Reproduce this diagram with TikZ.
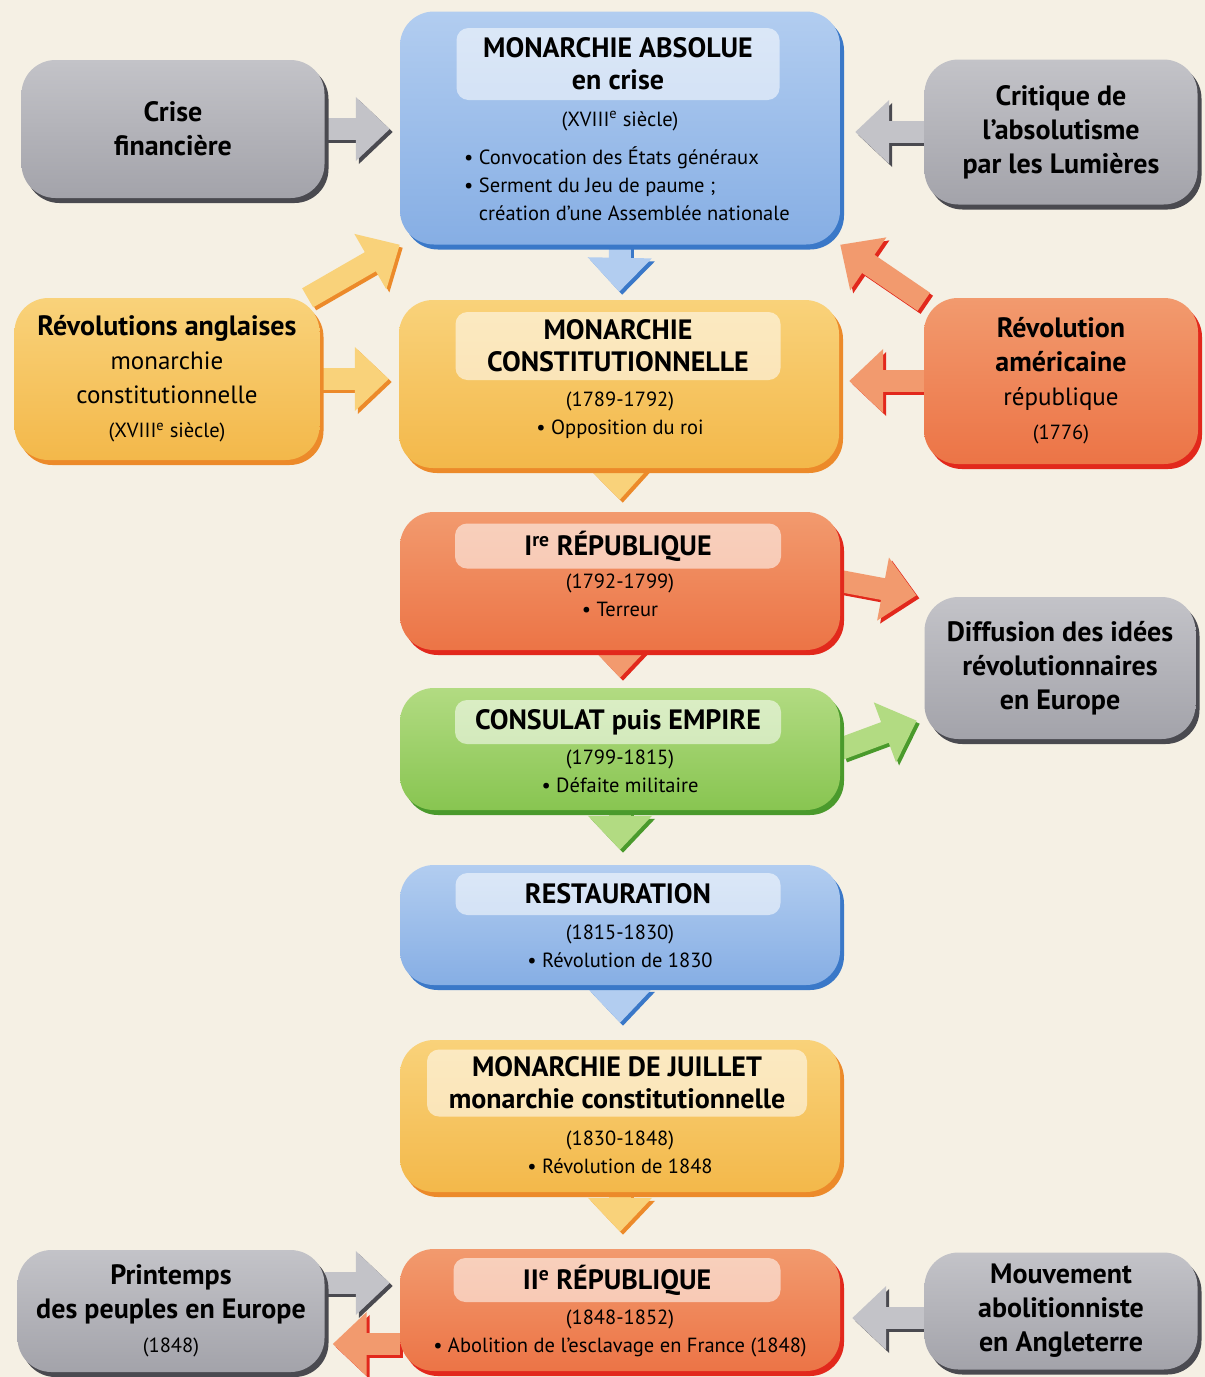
\documentclass[tikz,border=0pt]{standalone}
\usepackage{fontspec}
\setmainfont{PT Sans}
\usetikzlibrary{positioning,calc,arrows.meta,shadows,backgrounds}
\tikzset{>=Triangle}

\definecolor{paper}{HTML}{F5F0E4}
\definecolor{blueA}{HTML}{B2CDF0}
\definecolor{blueB}{HTML}{86AEE4}
\definecolor{blueE}{HTML}{3A78C8}
\definecolor{yellowA}{HTML}{F9D27A}
\definecolor{yellowB}{HTML}{F3B84A}
\definecolor{yellowE}{HTML}{EC8A2A}
\definecolor{redA}{HTML}{F29A6E}
\definecolor{redB}{HTML}{EC7446}
\definecolor{redE}{HTML}{E2281C}
\definecolor{greenA}{HTML}{B2DB82}
\definecolor{greenB}{HTML}{88C551}
\definecolor{greenE}{HTML}{4A9A2C}
\definecolor{greyA}{HTML}{C3C3C8}
\definecolor{greyB}{HTML}{A3A3AA}
\definecolor{greyE}{HTML}{4A4A50}

\newcommand{\periodfont}{\fontsize{28}{32}\selectfont\bfseries}
\newcommand{\datefont}{\fontsize{20.5}{28}\selectfont\mdseries}
\newcommand{\sidefont}{\fontsize{28}{34}\selectfont\bfseries}
\newcommand{\sidenote}{\fontsize{25}{31}\selectfont\mdseries}

\tikzset{
  box/.style={rounded corners=34pt, inner sep=0pt, align=center,
    top color=#1A, bottom color=#1B,
    drop shadow={shadow xshift=4pt, shadow yshift=-5pt, fill=#1E, opacity=1}},
  period/.style={box=#1, minimum width=440pt},
  side/.style={box=#1, font=\sidefont},
  namebox/.style={rounded corners=12pt, fill=white, fill opacity=0.55, text opacity=1,
    inner sep=0pt, align=center, font=\periodfont},
  detail/.style={inner sep=0pt, align=center, font=\datefont},
  flow/.style 2 args={draw=#1, line width=22pt, -{Triangle[width=62pt,length=34pt]},
    preaction={draw=#2, line width=22pt, -{Triangle[width=62pt,length=34pt]},
      transform canvas={shift={(3pt,-3pt)}}}},
}

\begin{document}
\begin{tikzpicture}[x=1pt,y=-1pt]
\begin{scope}[on background layer]
\fill[paper] (0,0) rectangle (1205,1377);
\end{scope}
\useasboundingbox (0,0) rectangle (1205,1377);

% centre column
\node[period=blue, minimum height=233pt] (mabs) at (620,128) {};
\node[namebox, minimum width=323pt, minimum height=72pt] (mabs-t) at (618,64) {MONARCHIE ABSOLUE\\en crise};
\node[detail] (mabs-s) at (620,121) {(XVIII\textsuperscript{e} siècle)};
\node[detail, align=left] (mabs-d) at (627,184) {\textbullet~Convocation des États généraux\\
  \textbullet~Serment du Jeu de paume ;\\ \phantom{\textbullet~}création d’une Assemblée nationale};

\node[period=yellow, minimum height=168pt] (mcons) at (619,384) {};
\node[namebox, minimum width=325pt, minimum height=68pt] (mcons-t) at (618,346) {MONARCHIE\\CONSTITUTIONNELLE};
\node[detail] (mcons-d) at (620,415) {(1789-1792)\\\textbullet~Opposition du roi};

\node[period=red, minimum height=138pt] (mrep1) at (620,581) {};
\node[namebox, minimum width=326pt, minimum height=45pt] (mrep1-t) at (618,546) {I\textsuperscript{re} RÉPUBLIQUE};
\node[detail] (mrep1-d) at (620,595) {(1792-1799)\\\textbullet~Terreur};

\node[period=green, minimum height=122pt] (consulat) at (620,749) {};
\node[namebox, minimum width=326pt, minimum height=44pt] (consulat-t) at (618,722) {CONSULAT puis EMPIRE};
\node[detail] (consulat-d) at (620,771) {(1799-1815)\\\textbullet~Défaite militaire};

\node[period=blue, minimum height=120pt] (restau) at (620,925) {};
\node[namebox, minimum width=325pt, minimum height=42pt] (restau-t) at (618,894) {RESTAURATION};
\node[detail] (restau-d) at (620,946) {(1815-1830)\\\textbullet~Révolution de 1830};

\node[period=yellow, minimum height=152pt] (juillet) at (620,1116) {};
\node[namebox, minimum width=380pt, minimum height=67pt] (juillet-t) at (617,1083) {MONARCHIE DE JUILLET\\monarchie constitutionnelle};
\node[detail] (juillet-d) at (620,1152) {(1830-1848)\\\textbullet~Révolution de 1848};

\node[period=red, minimum height=122pt] (mrep2) at (620,1310) {};
\node[namebox, minimum width=327pt, minimum height=44pt] (mrep2-t) at (617,1280) {II\textsuperscript{e} RÉPUBLIQUE};
\node[detail] (mrep2-d) at (620,1333) {(1848-1852)\\\textbullet~Abolition de l’esclavage en France (1848)};

% left and right
\node[side=grey, minimum width=303pt, minimum height=138pt] (crise) at (173,129) {Crise\\financière};
\node[side=grey, minimum width=273pt, minimum height=145pt] (critique) at (1061,132) {Critique de\\l’absolutisme\\par les Lumières};
\node[side=yellow, minimum width=305pt, minimum height=162pt] (anglo) at (167,379) {Révolutions anglaises\\{\sidenote monarchie}\\
  {\sidenote constitutionnelle}\\{\datefont (XVIII\textsuperscript{e} siècle)}};
\node[side=red, minimum width=274pt, minimum height=166pt] (amer) at (1061,381) {Révolution\\américaine\\{\sidenote république}\\{\datefont (1776)}};
\node[side=grey, minimum width=271pt, minimum height=142pt] (diffusion) at (1060,668) {Diffusion des idées\\révolutionnaires\\en Europe};
\node[side=grey, minimum width=307pt, minimum height=122pt] (printemps) at (171,1311) {Printemps\\des peuples en Europe\\{\datefont (1848)}};
\node[side=grey, minimum width=273pt, minimum height=117pt] (mouv) at (1061,1311) {Mouvement\\abolitionniste\\en Angleterre};

% arrows
\begin{scope}[on background layer]
\draw[flow={blueA}{blueE}, shorten >=8pt] (mabs.south) -- (mcons.north);
\draw[flow={yellowA}{yellowE}, shorten >=12pt] (mcons.south) -- (mrep1.north);
\draw[flow={redA}{redE}, shorten >=10pt] (mrep1.south) -- (consulat.north);
\draw[flow={greenA}{greenE}, shorten >=15pt] (consulat.south) -- (restau.north);
\draw[flow={blueA}{blueE}, shorten >=17pt] (restau.south) -- (juillet.north);
\draw[flow={yellowA}{yellowE}, shorten >=17pt] (juillet.south) -- (mrep2.north);

\draw[flow={greyA}{greyE}, shorten >=10pt] (crise.east) -- (crise.east -| mabs.west);
\draw[flow={greyA}{greyE}, shorten >=15pt] (critique.west) -- (critique.west -| mabs.east);
\draw[flow={yellowA}{yellowE}] (anglo.30) -- (mabs.south west);
\draw[flow={yellowA}{yellowE}, shorten >=10pt] (anglo.east) -- (anglo.east -| mcons.west);
\draw[flow={redA}{redE}] (amer.150) -- (mabs.south east);
\draw[flow={redA}{redE}, shorten >=10pt] (amer.west) -- (amer.west -| mcons.east);
\draw[flow={redA}{redE}, shorten >=8pt] (mrep1.east) -- (diffusion.north west);
\draw[flow={greenA}{greenE}, shorten >=8pt] (consulat.east) -- ($(diffusion.south west)!0.15!(diffusion.north west)$);
\draw[flow={greyA}{greyE}, shorten >=10pt] ([yshift=28pt]printemps.east) -- ([yshift=28pt]printemps.east -| mrep2.west);
\draw[flow={redA}{redE}, shorten >=8pt] ([yshift=-34pt]mrep2.west) -- ([yshift=-34pt]mrep2.west -| printemps.east);
\draw[flow={greyA}{greyE}, shorten >=12pt] ([yshift=-7pt]mouv.west) -- ([yshift=-7pt]mouv.west -| mrep2.east);
\end{scope}
\end{tikzpicture}
\end{document}
